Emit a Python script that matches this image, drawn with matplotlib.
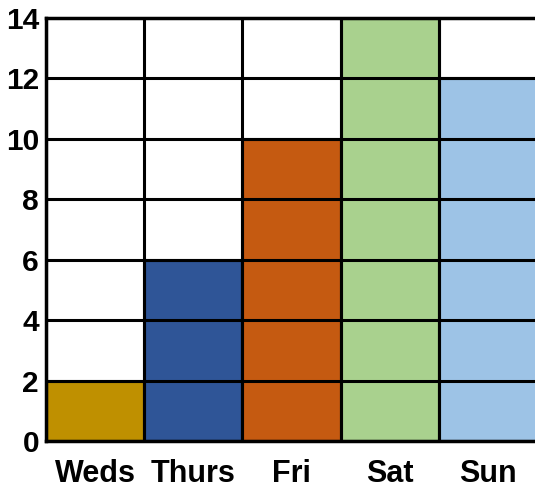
import matplotlib
matplotlib.use("Agg")
import matplotlib.pyplot as plt

days = ["Weds", "Thurs", "Fri", "Sat", "Sun"]
values = [2, 6, 10, 14, 12]
colors = ["#BF9000", "#2F5597", "#C55A11", "#A9D18E", "#9DC3E6"]
yticks = [0, 2, 4, 6, 8, 10, 12, 14]

fig = plt.figure(figsize=(5.35, 4.9), dpi=100)
ax = fig.add_axes([46/535, 49/490, 489/535, 423/490])

x = list(range(len(days)))
ax.bar(x, values, width=1.0, color=colors, edgecolor="black", linewidth=2.2, zorder=2)

for y in yticks[1:-1]:
    ax.axhline(y, color="black", linewidth=2.2, zorder=3)
for i in range(len(days) + 1):
    ax.axvline(i - 0.5, color="black", linewidth=2.2, zorder=3)

ax.set_xlim(-0.5, 4.48)
ax.set_ylim(0, 14)
ax.set_xticks(x)
ax.set_xticklabels(days)
ax.set_yticks(yticks)
for sp in ["left", "top", "bottom"]:
    ax.spines[sp].set_linewidth(2.5)
    ax.spines[sp].set_zorder(4)
ax.spines["right"].set_visible(False)
ax.tick_params(length=0)
for lab in ax.get_yticklabels():
    lab.set_fontsize(21.5)
    lab.set_fontweight("bold")
    lab.set_family("Liberation Sans")
for lab in ax.get_xticklabels():
    lab.set_fontsize(22)
    lab.set_fontweight("bold")
    lab.set_family("Liberation Sans")
ax.tick_params(axis="x", pad=13)
ax.tick_params(axis="y", pad=5)

fig.savefig("out.png", dpi=100)
